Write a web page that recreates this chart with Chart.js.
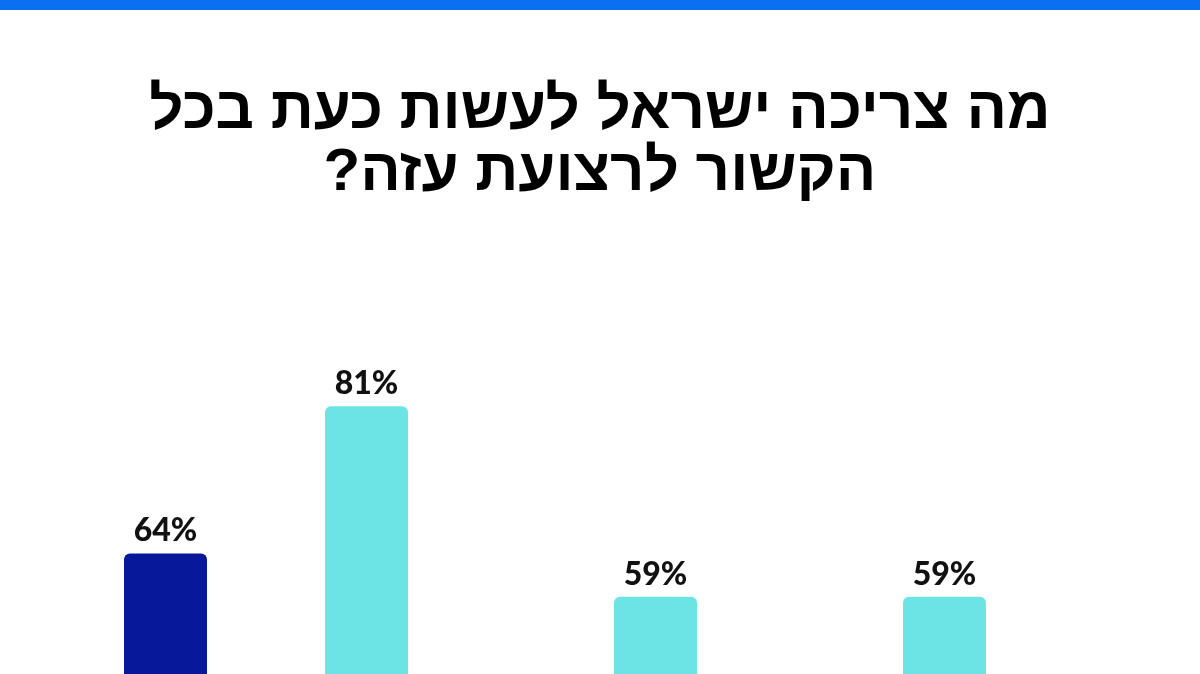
<!DOCTYPE html>
<html lang="he">
<head>
<meta charset="utf-8">
<script src="https://cdn.jsdelivr.net/npm/chart.js@4.4.1/dist/chart.umd.min.js"></script>
<style>
  html, body { margin:0; padding:0; width:1200px; height:674px; overflow:hidden; background:#fff; }
  #stripe { position:absolute; left:0; top:0; width:1200px; height:10px; background:#0a6ff0; }
  #title { position:absolute; left:0; top:77px; width:1200px; margin:0; text-align:center;
           font-family:"Liberation Sans", "DejaVu Sans", sans-serif; font-weight:700;
           font-size:60px; line-height:62px; color:#000; direction:rtl; }
  #wrap { position:absolute; left:-23px; top:242px; width:1156px; height:865px; }
</style>
</head>
<body>
<div id="stripe"></div>
<h1 id="title">מה צריכה ישראל לעשות כעת בכל<br>הקשור לרצועת עזה?</h1>
<div id="wrap"><canvas id="c"></canvas></div>
<script>
const categories = ["1", "2", "3", "4"];
const seriesCyan = [null, 81, 59, 59];
const seriesNavy = [64, null, null, null];
const valueSuffix = "%";

const labelPlugin = {
  id: "valueLabels",
  afterDatasetsDraw(chart) {
    const ctx = chart.ctx;
    ctx.save();
    ctx.font = "900 32px Lato, 'Open Sans', sans-serif";
    ctx.fillStyle = "#111";
    ctx.textAlign = "center";
    ctx.textBaseline = "alphabetic";
    chart.data.datasets.forEach((ds, i) => {
      const meta = chart.getDatasetMeta(i);
      meta.data.forEach((bar, j) => {
        const v = ds.data[j];
        if (v === null || v === undefined) return;
        ctx.fillText(v + valueSuffix, bar.x, bar.y - 12);
      });
    });
    ctx.restore();
  }
};

new Chart(document.getElementById("c"), {
  type: "bar",
  data: {
    labels: categories,
    datasets: [
      { data: seriesCyan, backgroundColor: "#6ce4e6", borderRadius: {topLeft:6, topRight:6}, borderSkipped: "start" },
      { data: seriesNavy, backgroundColor: "#07189a", borderRadius: {topLeft:6, topRight:6}, borderSkipped: "start" }
    ]
  },
  options: {
    responsive: true,
    maintainAspectRatio: false,
    animation: false,
    layout: { padding: 0 },
    categoryPercentage: 0.609,
    barPercentage: 0.943,
    plugins: { legend: { display:false }, tooltip: { enabled:false }, title: { display:false } },
    scales: {
      x: { display:false, grid:{display:false} },
      y: { display:false, min:0, max:100, grid:{display:false} }
    }
  },
  plugins: [labelPlugin]
});
</script>
</body>
</html>
